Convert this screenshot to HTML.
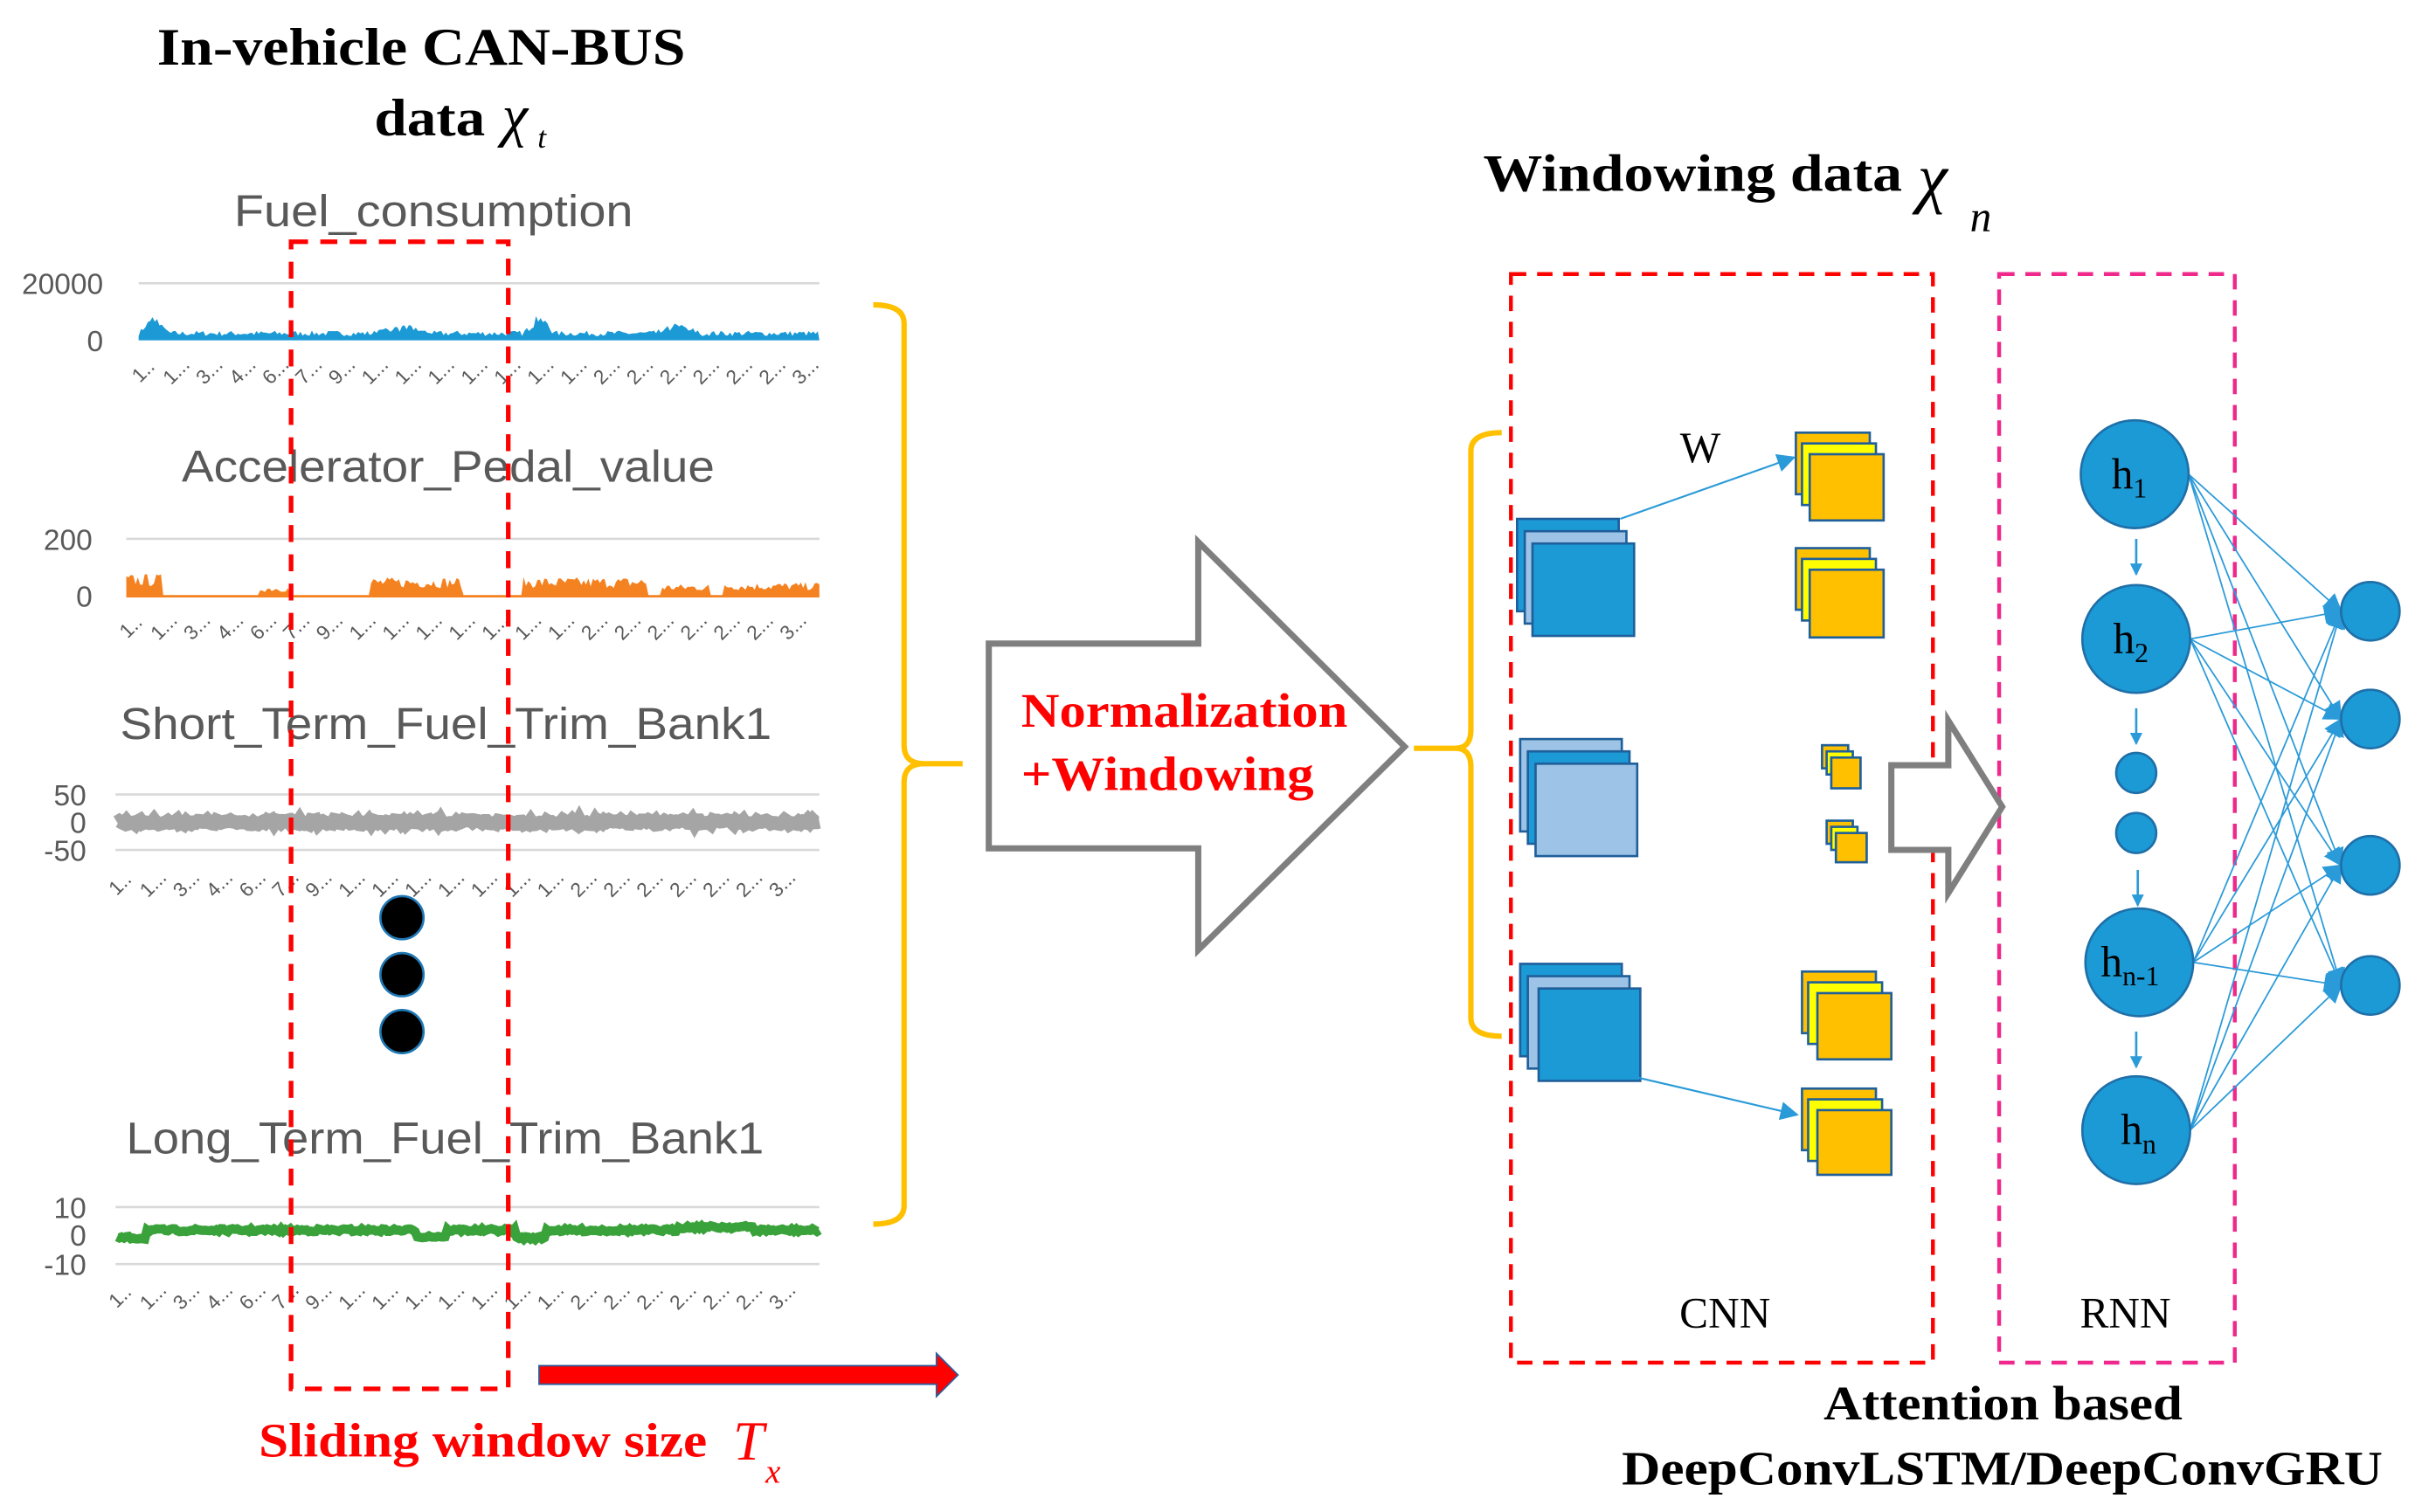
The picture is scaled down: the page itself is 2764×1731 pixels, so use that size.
<!DOCTYPE html>
<html><head><meta charset="utf-8"><style>
html,body{margin:0;padding:0;background:#fff;}
svg{display:block;}
.t{font-family:"Liberation Serif",serif;}
.s{font-family:"Liberation Sans",sans-serif;fill:#595959;}
</style></head><body>
<svg id="svg" width="2764" height="1731" viewBox="0 0 1568 982" preserveAspectRatio="none" xmlns="http://www.w3.org/2000/svg">
<defs>
<marker id="ab" markerWidth="8" markerHeight="8" refX="7" refY="4" orient="auto" markerUnits="userSpaceOnUse"><path d="M0,0 L8,4 L0,8 z" fill="#2a9ad8"/></marker>
<marker id="ab2" markerWidth="12" markerHeight="12" refX="11" refY="6" orient="auto" markerUnits="userSpaceOnUse"><path d="M0,0 L12,6 L0,12 z" fill="#2a9ad8"/></marker>
</defs>
<!-- titles -->
<text x="102" y="42" class="t" font-weight="bold" font-size="34" textLength="343" lengthAdjust="spacingAndGlyphs">In-vehicle CAN-BUS</text>
<text x="243" y="88" class="t" font-weight="bold" font-size="34" textLength="72" lengthAdjust="spacingAndGlyphs">data</text>
<text x="326" y="88" class="t" font-style="italic" font-size="38">χ</text><text x="349" y="96" class="t" font-style="italic" font-size="20">t</text>

<g class="s" font-size="29" text-anchor="start">
<text x="152" y="147" textLength="259" lengthAdjust="spacingAndGlyphs">Fuel_consumption</text>
<text x="118" y="313" textLength="346" lengthAdjust="spacingAndGlyphs">Accelerator_Pedal_value</text>
<text x="78" y="480" textLength="423" lengthAdjust="spacingAndGlyphs">Short_Term_Fuel_Trim_Bank1</text>
<text x="82" y="749" textLength="414" lengthAdjust="spacingAndGlyphs">Long_Term_Fuel_Trim_Bank1</text>
</g>

<g stroke="#d9d9d9" stroke-width="1.5">
<line x1="90" y1="184" x2="532" y2="184"/>
<line x1="82" y1="350" x2="532" y2="350"/>
<line x1="75" y1="516" x2="532" y2="516"/><line x1="75" y1="552" x2="532" y2="552"/>
<line x1="75" y1="784" x2="532" y2="784"/><line x1="75" y1="821" x2="532" y2="821"/>
</g>
<g class="s" font-size="19" text-anchor="end">
<text x="67" y="191">20000</text><text x="67" y="228">0</text>
<text x="60" y="357">200</text><text x="60" y="394">0</text>
<text x="56" y="523">50</text><text x="56" y="541">0</text><text x="56" y="559">-50</text>
<text x="56" y="791">10</text><text x="56" y="809">0</text><text x="56" y="828">-10</text>
</g>
<g id="series"></g>
<g id="ticks" class="s" font-size="13"></g>

<circle cx="261" cy="596" r="14" fill="#000" stroke="#1f78b4" stroke-width="1.5"/>
<circle cx="261" cy="633" r="14" fill="#000" stroke="#1f78b4" stroke-width="1.5"/>
<circle cx="261" cy="670" r="14" fill="#000" stroke="#1f78b4" stroke-width="1.5"/>

<rect x="189" y="157" width="141" height="745" fill="none" stroke="#f00" stroke-width="3" stroke-dasharray="11,8"/>
<path d="M350,887 L608,887 L608,879 L622,893 L608,907 L608,899 L350,899 z" fill="#f00" stroke="#2e5d9a" stroke-width="1"/>
<text x="168" y="946" class="t" font-weight="bold" font-size="31" fill="#f00" textLength="291" lengthAdjust="spacingAndGlyphs">Sliding window size</text>
<text x="476" y="948" class="t" font-style="italic" font-size="36" fill="#f00">T</text><text x="497" y="963" class="t" font-style="italic" font-size="22" fill="#f00">x</text>

<!-- brace 1 -->
<path d="M567,198 Q587,198 587,210 L587,484 Q587,496 600,496 L625,496 M600,496 Q587,496 587,508 L587,783 Q587,795 567,795" fill="none" stroke="#ffc000" stroke-width="3.5"/>

<!-- big arrow -->
<path d="M642,418 L778,418 L778,352 L912,485 L778,617 L778,551 L642,551 z" fill="#fff" stroke="#7f7f7f" stroke-width="4"/>
<text x="663" y="472" class="t" font-weight="bold" font-size="31" fill="#f00" textLength="212" lengthAdjust="spacingAndGlyphs">Normalization</text>
<text x="663" y="513" class="t" font-weight="bold" font-size="31" fill="#f00" textLength="190" lengthAdjust="spacingAndGlyphs">+Windowing</text>

<text x="963" y="124" class="t" font-weight="bold" font-size="34" textLength="272" lengthAdjust="spacingAndGlyphs">Windowing data</text>
<text x="1245" y="130" class="t" font-style="italic" font-size="44">χ</text><text x="1279" y="150" class="t" font-style="italic" font-size="28">n</text>

<rect x="981" y="178" width="274" height="707" fill="none" stroke="#f00" stroke-width="2.5" stroke-dasharray="10,7"/>
<rect x="1298" y="178" width="153" height="707" fill="none" stroke="#f0288c" stroke-width="2.5" stroke-dasharray="10,7"/>

<path d="M975,281 Q955,281 955,293 L955,474 Q955,486 945,486 L918,486 M945,486 Q955,486 955,498 L955,661 Q955,673 975,673" fill="none" stroke="#ffc000" stroke-width="3.5"/>

<g stroke="#1f5f9a" stroke-width="1.5">
<rect x="985" y="337" width="66" height="60" fill="#1b9ad6"/>
<rect x="990" y="345" width="66" height="60" fill="#9dc3e6"/>
<rect x="995" y="353" width="66" height="60" fill="#1b9ad6"/>
<rect x="987" y="480" width="66" height="60" fill="#9dc3e6"/>
<rect x="992" y="488" width="66" height="60" fill="#1b9ad6"/>
<rect x="997" y="496" width="66" height="60" fill="#9dc3e6"/>
<rect x="987" y="626" width="66" height="60" fill="#1b9ad6"/>
<rect x="992" y="634" width="66" height="60" fill="#9dc3e6"/>
<rect x="999" y="642" width="66" height="60" fill="#1b9ad6"/>
</g>
<g stroke="#1f5f9a" stroke-width="1.5">
<rect x="1166" y="281" width="48" height="40" fill="#ffc000"/><rect x="1170" y="288" width="48" height="40" fill="#ffff00"/><rect x="1175" y="295" width="48" height="43" fill="#ffc000"/>
<rect x="1166" y="356" width="48" height="40" fill="#ffc000"/><rect x="1170" y="363" width="48" height="40" fill="#ffff00"/><rect x="1175" y="370" width="48" height="44" fill="#ffc000"/>
<rect x="1183" y="484" width="17" height="15" fill="#ffc000"/><rect x="1186" y="488" width="17" height="15" fill="#ffff00"/><rect x="1189" y="492" width="19" height="20" fill="#ffc000"/>
<rect x="1186" y="533" width="17" height="15" fill="#ffc000"/><rect x="1189" y="537" width="17" height="15" fill="#ffff00"/><rect x="1192" y="541" width="20" height="19" fill="#ffc000"/>
<rect x="1170" y="631" width="48" height="40" fill="#ffc000"/><rect x="1174" y="638" width="48" height="40" fill="#ffff00"/><rect x="1180" y="645" width="48" height="43" fill="#ffc000"/>
<rect x="1170" y="707" width="48" height="40" fill="#ffc000"/><rect x="1174" y="714" width="48" height="40" fill="#ffff00"/><rect x="1180" y="721" width="48" height="42" fill="#ffc000"/>
</g>
<line x1="1052" y1="337" x2="1165" y2="297" stroke="#2a9ad8" stroke-width="1.2" marker-end="url(#ab2)"/>
<line x1="1064" y1="700" x2="1167" y2="724" stroke="#2a9ad8" stroke-width="1.2" marker-end="url(#ab2)"/>
<text x="1104" y="300" text-anchor="middle" class="t" font-size="28">W</text>

<path d="M1228,497 L1265,497 L1265,468 L1300,524 L1265,580 L1265,552 L1228,552 z" fill="#fff" stroke="#7f7f7f" stroke-width="4"/>

<g id="conns" stroke="#2a9ad8" stroke-width="1"></g>
<g fill="#1b9ad6" stroke="#1f6fa8" stroke-width="1.5">
<circle cx="1386" cy="308" r="35"/><circle cx="1387" cy="415" r="35"/>
<circle cx="1387" cy="502" r="13"/><circle cx="1387" cy="541" r="13"/>
<circle cx="1389" cy="625" r="35"/><circle cx="1387" cy="734" r="35"/>
<circle cx="1539" cy="397" r="19"/><circle cx="1539" cy="467" r="19"/><circle cx="1539" cy="562" r="19"/><circle cx="1539" cy="640" r="19"/>
</g>
<g stroke="#2a9ad8" stroke-width="1.5">
<line x1="1387" y1="350" x2="1387" y2="373" marker-end="url(#ab)"/>
<line x1="1387" y1="460" x2="1387" y2="483" marker-end="url(#ab)"/>
<line x1="1388" y1="565" x2="1388" y2="588" marker-end="url(#ab)"/>
<line x1="1387" y1="670" x2="1387" y2="693" marker-end="url(#ab)"/>
</g>
<g class="t" font-size="28">
<text x="1371" y="317">h<tspan font-size="18" dy="6">1</tspan></text>
<text x="1372" y="424">h<tspan font-size="18" dy="6">2</tspan></text>
<text x="1364" y="634">h<tspan font-size="18" dy="6">n-1</tspan></text>
<text x="1377" y="743">h<tspan font-size="18" dy="6">n</tspan></text>
</g>
<text x="1120" y="862" text-anchor="middle" class="t" font-size="28">CNN</text>
<text x="1380" y="862" text-anchor="middle" class="t" font-size="28">RNN</text>
<text x="1184" y="922" class="t" font-weight="bold" font-size="31" textLength="233" lengthAdjust="spacingAndGlyphs">Attention based</text>
<text x="1053" y="964" class="t" font-weight="bold" font-size="31" textLength="494" lengthAdjust="spacingAndGlyphs">DeepConvLSTM/DeepConvGRU</text>
</svg>
<script>
var NS="http://www.w3.org/2000/svg";
var seed=7;function r(){seed=(seed*16807)%2147483647;return seed/2147483647;}
var g=document.getElementById("series");
function area(y0,color,amp,peaks){
 var p="M90,"+y0;var x;
 for(x=90;x<=532;x+=1.5){var h=amp*(0.3+0.4*r());peaks.forEach(function(k){if(Math.abs(x-k[0])<k[2])h+=k[1]*(1-Math.abs(x-k[0])/k[2])*(0.6+0.4*r());});p+=" L"+x.toFixed(1)+","+(y0-h).toFixed(1);}
 p+=" L532,"+y0+" z";var e=document.createElementNS(NS,"path");e.setAttribute("d",p);e.setAttribute("fill",color);g.appendChild(e);}
area(221,"#1b9ad6",9,[[100,12,10],[350,14,10],[262,5,20],[440,6,15]]);
(function(){var p="M82,388",x;for(x=82;x<=532;x+=1.5){var h=1.5;
 var segs=[[82,105,14],[168,188,7],[240,300,12],[340,420,12],[430,460,8],[470,532,9]];
 segs.forEach(function(s){if(x>=s[0]&&x<=s[1])h=s[2]*(0.5+0.6*r());});p+=" L"+x.toFixed(1)+","+(388-h).toFixed(1);}
 p+=" L532,388 z";var e=document.createElementNS(NS,"path");e.setAttribute("d",p);e.setAttribute("fill","#f58220");g.appendChild(e);})();
function band(yc,color,amp,width,wander){var x,o=0;var pts=[];for(x=76;x<=532;x+=1.5){o=wander?wander(x):0;var a=yc+o+(r()-0.5)*amp;pts.push([x,a]);}
 var e=document.createElementNS(NS,"polyline");e.setAttribute("points",pts.map(function(v){return v[0].toFixed(1)+","+v[1].toFixed(1)}).join(" "));e.setAttribute("fill","none");e.setAttribute("stroke",color);e.setAttribute("stroke-width",width);g.appendChild(e);}
band(534,"#a5a5a5",3,9);
band(800,"#3aa23a",2,6,function(x){if(x<95)return 4;if(x>270&&x<290)return 3;if(x>335&&x<355)return 4;if(x>440&&x<490)return -3;if(x>525)return -1;return -1;});
var t=document.getElementById("ticks");
var labs=["1","1.","3.","4.","6.","7.","9.","1.","1.","1.","1.","1.","1.","1.","2.","2.","2.","2.","2.","2.","3."];
[[244,90],[410,82],[577,75],[845,75]].forEach(function(c){labs.forEach(function(l,i){var x=c[1]+6+i*21.5;var e=document.createElementNS(NS,"text");e.setAttribute("x",x);e.setAttribute("y",c[0]);e.setAttribute("transform","rotate(-45 "+x+" "+c[0]+")");e.setAttribute("text-anchor","middle");e.textContent=l+"..";t.appendChild(e);});});
var cg=document.getElementById("conns");
var src=[[1421,308],[1422,415],[1424,625],[1422,734]],dst=[[1520,397],[1520,467],[1520,562],[1520,640]];
src.forEach(function(s){dst.forEach(function(d){var e=document.createElementNS(NS,"line");e.setAttribute("x1",s[0]);e.setAttribute("y1",s[1]);e.setAttribute("x2",d[0]);e.setAttribute("y2",d[1]);e.setAttribute("marker-end","url(#ab2)");cg.appendChild(e);});});
</script>
</body></html>
